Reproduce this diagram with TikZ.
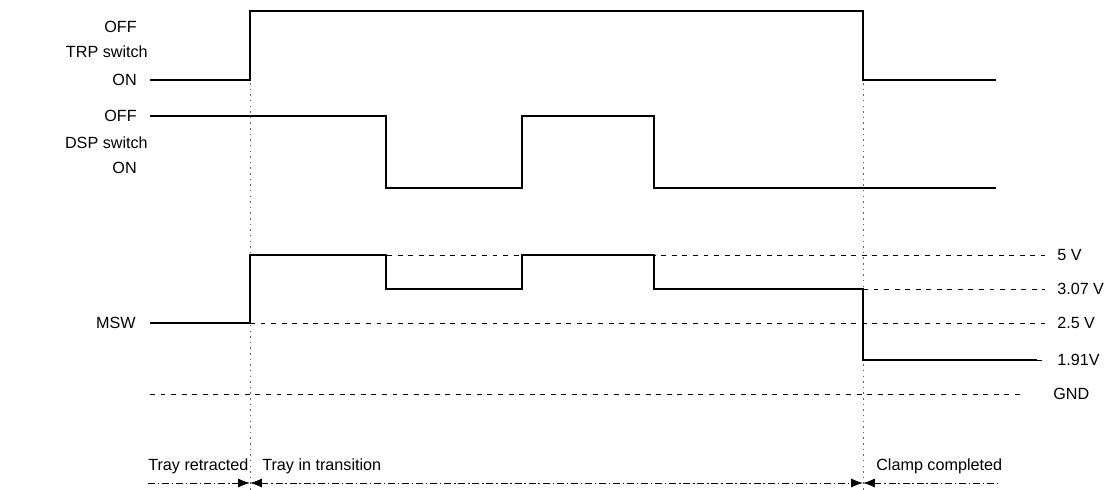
\documentclass[tikz,border=0pt]{standalone}
\usepackage{fontspec}
\setmainfont{Liberation Sans}
\usetikzlibrary{arrows.meta}
\begin{document}
\begin{tikzpicture}[x=0.025cm, y=-0.025cm, >={Latex[length=8.5pt,width=6.5pt]},
    signal/.style={line width=1.5pt, line join=miter},
    level/.style={line width=0.6pt, dash pattern=on 3.5pt off 4pt},
    marker/.style={line width=0.5pt, gray!80!black, dash pattern=on 1pt off 3pt},
    phase/.style={line width=0.7pt, dash pattern=on 5pt off 2pt on 1pt off 2pt},
    lbl/.style={font=\fontsize{11.5}{13}\selectfont, inner sep=0pt},
    lbll/.style={lbl, anchor=east},
    lblr/.style={lbl, anchor=west}]

    \useasboundingbox (0,0) rectangle (1120,490);

    % 1. Thời điểm chuyển trạng thái
    \coordinate (t1) at (250,0);
    \coordinate (t2) at (863,0);
    \draw[marker] (250,10) -- (250,490);
    \draw[marker] (863,10) -- (863,490);

    % 2. TRP switch
    \node[lbll] (trpoff) at (137,27) {OFF};
    \node[lbll] (trpname) at (148,52) {TRP switch};
    \node[lbll] (trpon) at (137,80) {ON};
    \draw[signal] (150,80) -- (250,80) -- (250,11) -- (863,11) -- (863,80) -- (996,80);

    % 3. DSP switch
    \node[lbll] (dspoff) at (137,116) {OFF};
    \node[lbll] (dspname) at (148,143) {DSP switch};
    \node[lbll] (dspon) at (137,168) {ON};
    \draw[signal] (150,116) -- (386,116) -- (386,188) -- (522,188) -- (522,116)
        -- (654,116) -- (654,188) -- (996,188);

    % 4. Mức điện áp MSW
    \draw[level] (250,255) -- (1045,255);
    \draw[level] (863,289) -- (1045,289);
    \draw[level] (250,323) -- (1045,323);
    \draw[level] (1037,360) -- (1045,360);
    \draw[level] (150,394) -- (1022,394);
    \node[lblr] (v5)   at (1057,255) {5 V};
    \node[lblr] (v307) at (1057,289) {3.07 V};
    \node[lblr] (v25)  at (1057,323) {2.5 V};
    \node[lblr] (v191) at (1057,360) {1.91V};
    \node[lblr] (vgnd) at (1053,394) {GND};

    % 5. MSW
    \node[lbll] (msw) at (136,323) {MSW};
    \draw[signal] (150,323) -- (250,323) -- (250,255) -- (386,255) -- (386,289)
        -- (522,289) -- (522,255) -- (654,255) -- (654,289) -- (863,289)
        -- (863,360) -- (1037,360);

    % 6. Các giai đoạn của khay
    \coordinate (p0) at (148,483);
    \coordinate (p1) at (250,483);
    \coordinate (p2) at (863,483);
    \coordinate (p3) at (1000,483);
    \draw[phase, ->] (p0) -- (p1);
    \draw[phase, <->] (p1) -- (p2);
    \draw[phase, <-] (p2) -- (p3);
    \node[lblr] (retracted) at (148,466) {Tray retracted};
    \node[lblr] (transition) at (262,466) {Tray in transition};
    \node[lblr] (clamp) at (876,466) {Clamp completed};

\end{tikzpicture}
\end{document}
